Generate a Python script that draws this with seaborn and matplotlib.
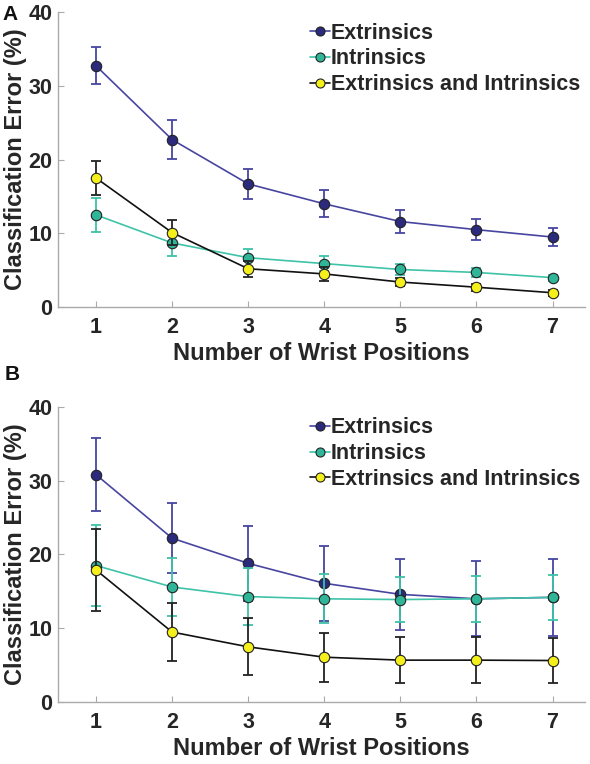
import matplotlib
matplotlib.use("Agg")
import matplotlib.pyplot as plt
import seaborn as sns
import pandas as pd
from matplotlib.lines import Line2D

# data
positions = [1, 2, 3, 4, 5, 6, 7]
series = ["Extrinsics", "Intrinsics", "Extrinsics and Intrinsics"]

a_ext = [32.7, 22.7, 16.7, 14.0, 11.6, 10.5, 9.5]
a_ext_err = [2.5, 2.6, 2.0, 1.85, 1.5, 1.4, 1.2]
a_int = [12.5, 8.7, 6.7, 5.9, 5.1, 4.7, 4.0]
a_int_err = [2.3, 1.8, 1.2, 1.0, 0.7, 0.6, 0.4]
a_both = [17.5, 10.1, 5.2, 4.5, 3.4, 2.7, 1.95]
a_both_err = [2.25, 1.7, 1.1, 1.0, 0.6, 0.5, 0.4]

b_ext = [30.8, 22.2, 18.8, 16.1, 14.6, 14.0, 14.2]
b_ext_err = [4.95, 4.75, 5.1, 5.1, 4.85, 5.05, 5.2]
b_int = [18.5, 15.6, 14.3, 14.0, 13.9, 14.0, 14.2]
b_int_err = [5.5, 3.95, 3.9, 3.3, 3.1, 3.1, 3.05]
b_both = [17.9, 9.5, 7.5, 6.1, 5.7, 5.7, 5.65]
b_both_err = [5.5, 3.95, 3.85, 3.3, 3.1, 3.15, 3.1]

line_colors = ["#4845a0", "#3ec3a8", "#111111"]
face_colors = ["#2c2a7c", "#2fb597", "#f5f01c"]
err_colors = ["#4845a0", "#3ec3a8", "#222222"]


def make_df(ext, ext_err, intr, intr_err, both, both_err):
    rows = []
    for name, vals, errs in zip(series, [ext, intr, both], [ext_err, intr_err, both_err]):
        for p, v, e in zip(positions, vals, errs):
            rows.append({"positions": p, "error": v, "sd": e, "features": name})
    return pd.DataFrame(rows)


sns.set_style("ticks")
plt.rcParams["font.family"] = ["Liberation Sans", "DejaVu Sans"]
plt.rcParams["font.weight"] = "bold"

fig = plt.figure(figsize=(5.9, 7.64), dpi=100)
ax_a = fig.add_axes([0.0983, 0.598, 0.8937, 0.3863])
ax_b = fig.add_axes([0.0983, 0.0808, 0.8937, 0.3869])

panels = [
    (ax_a, make_df(a_ext, a_ext_err, a_int, a_int_err, a_both, a_both_err)),
    (ax_b, make_df(b_ext, b_ext_err, b_int, b_int_err, b_both, b_both_err)),
]

for ax, df in panels:
    for i, name in enumerate(series):
        d = df[df["features"] == name]
        ax.errorbar(d["positions"], d["error"], yerr=d["sd"], fmt="none",
                    ecolor=err_colors[i], elinewidth=1.3, capsize=3.5, capthick=1.3,
                    zorder=2 + 2 * i)
        sns.lineplot(data=d, x="positions", y="error", ax=ax, color=line_colors[i],
                     linewidth=1.2, marker="o", markersize=7.5,
                     markerfacecolor=face_colors[i], markeredgecolor="#222222",
                     markeredgewidth=0.8, zorder=3 + 2 * i, legend=False)

    ax.set_xlim(0.5, 7.43)
    ax.set_ylim(0, 40)
    ax.set_xticks(positions)
    ax.set_yticks([0, 10, 20, 30, 40])
    ax.set_xlabel("Number of Wrist Positions", fontsize=17, fontweight="bold",
                  color="#262626", labelpad=3)
    ax.set_ylabel("Classification Error (%)", fontsize=17, fontweight="bold",
                  color="#262626", labelpad=1)
    ax.tick_params(direction="in", length=4, color="#aaaaaa", labelsize=15.5,
                   labelcolor="#262626")
    ax.tick_params(axis="x", pad=7)
    ax.tick_params(axis="y", pad=4)
    for lab in ax.get_xticklabels() + ax.get_yticklabels():
        lab.set_fontweight("bold")
    sns.despine(ax=ax)
    for s in ["left", "bottom"]:
        ax.spines[s].set_color("#aaaaaa")
        ax.spines[s].set_linewidth(1.0)

    handles = [Line2D([0], [0], color=line_colors[i], lw=1.2, marker="o", markersize=6.5,
                      markerfacecolor=face_colors[i], markeredgecolor="#222222",
                      markeredgewidth=0.8) for i in range(3)]
    ax.legend(handles, series, loc="upper left", bbox_to_anchor=(0.458, 1.0),
              frameon=False, handlelength=0.9, handletextpad=0.05, labelspacing=0.22,
              prop={"size": 15.5, "weight": "bold"}, borderaxespad=0.1)

fig.text(0.005, 0.993, "A", fontsize=15, fontweight="bold", va="top", color="#111111")
fig.text(0.008, 0.522, "B", fontsize=15, fontweight="bold", va="top", color="#111111")

fig.savefig("out.png", dpi=100)
